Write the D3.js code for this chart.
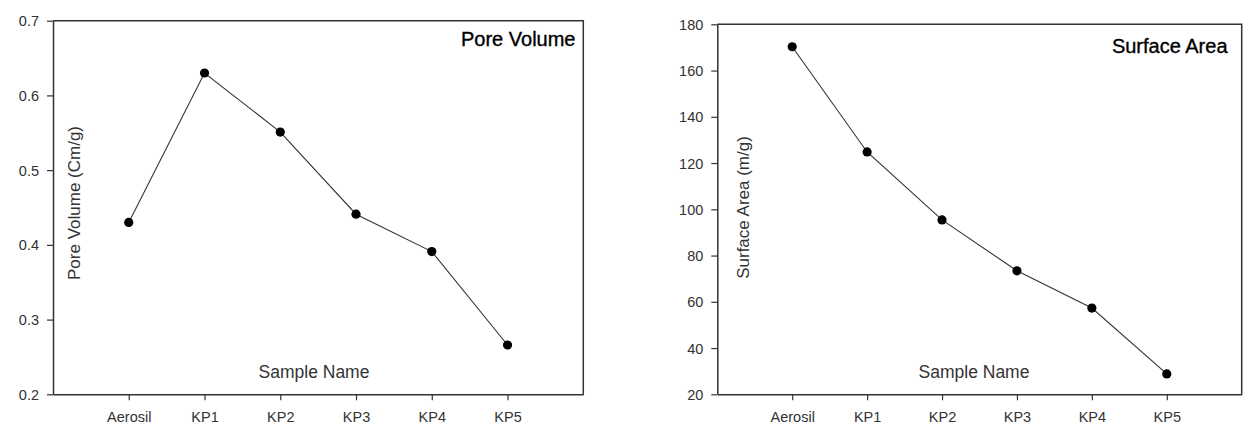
<!DOCTYPE html>
<html>
<head>
<meta charset="utf-8">
<script src="https://cdn.jsdelivr.net/npm/d3@7"></script>
<style>
  body { margin: 0; background: #fff; }
  svg { display: block; font-family: "Liberation Sans", Arial, sans-serif; }
</style>
</head>
<body>
<script>
// data
const samples = ["Aerosil", "KP1", "KP2", "KP3", "KP4", "KP5"];
const poreVolume = [0.43, 0.63, 0.551, 0.441, 0.391, 0.266];
const surfaceArea = [170.3, 124.8, 95.4, 73.4, 57.3, 28.8];
const poreTicks = [0.2, 0.3, 0.4, 0.5, 0.6, 0.7];
const areaTicks = [20, 40, 60, 80, 100, 120, 140, 160, 180];

const width = 1256, height = 435;

const svg = d3.select("body").append("svg")
  .attr("width", width)
  .attr("height", height);

function drawPanel(p) {
  const x = d3.scaleLinear().domain([0, samples.length + 1]).range([p.left, p.right]);
  const y = d3.scaleLinear().domain(p.domain).range([p.bottom, p.top]);

  const g = svg.append("g");

  // frame (top + right)
  g.append("path")
    .attr("d", `M${p.left},${p.top}H${p.right}V${p.bottom}`)
    .attr("fill", "none")
    .attr("stroke", "#333")
    .attr("stroke-width", 1.5);

  const yAxis = g.append("g")
    .attr("transform", `translate(${p.left},0)`)
    .call(d3.axisLeft(y).tickValues(p.ticks).tickFormat(p.fmt).tickSize(6).tickPadding(8).tickSizeOuter(0));

  const xAxis = g.append("g")
    .attr("transform", `translate(0,${p.bottom})`)
    .call(d3.axisBottom(x).tickValues(d3.range(1, samples.length + 1))
      .tickFormat(i => samples[i - 1]).tickSize(6).tickPadding(11).tickSizeOuter(0));

  [yAxis, xAxis].forEach(a => {
    a.select(".domain").attr("stroke", "#333").attr("stroke-width", 1.5);
    a.selectAll(".tick line").attr("stroke", "#333").attr("stroke-width", 1.2);
    a.selectAll(".tick text").attr("fill", "#333").style("font-size", "14.5px");
  });
  yAxis.selectAll(".tick text").attr("dy", "0.35em");

  const pts = p.values.map((v, i) => [x(i + 1), y(v)]);

  g.append("path")
    .attr("d", d3.line()(pts))
    .attr("fill", "none")
    .attr("stroke", "#333")
    .attr("stroke-width", 1.1);

  g.selectAll("circle.pt")
    .data(pts)
    .join("circle")
    .attr("class", "pt")
    .attr("cx", d => d[0])
    .attr("cy", d => d[1])
    .attr("r", 4.6)
    .attr("fill", "#000");

  g.append("text")
    .attr("x", p.titleX)
    .attr("y", p.titleY)
    .attr("text-anchor", "end")
    .attr("fill", "#000")
    .attr("stroke", "#000")
    .attr("stroke-width", 0.35)
    .style("font-size", "20px")
    .text(p.title);

  g.append("text")
    .attr("x", p.xLabelX)
    .attr("y", 378)
    .attr("text-anchor", "middle")
    .attr("fill", "#333")
    .style("font-size", "17.5px")
    .text("Sample Name");

  g.append("text")
    .attr("transform", `translate(${p.yLabelX},${p.yLabelY}) rotate(-90)`)
    .attr("text-anchor", "middle")
    .attr("fill", "#333")
    .style("font-size", "17px")
    .text(p.yLabel);
}

drawPanel({
  left: 53, right: 583.3, top: 20.7, bottom: 394.3,
  domain: [0.2, 0.7], ticks: poreTicks, fmt: d3.format(".1f"),
  values: poreVolume,
  title: "Pore Volume", titleX: 575.5, titleY: 46,
  xLabelX: 314,
  yLabel: "Pore Volume (Cm/g)", yLabelX: 80, yLabelY: 203
});

drawPanel({
  left: 717.3, right: 1241.7, top: 24.3, bottom: 394.3,
  domain: [20, 180], ticks: areaTicks, fmt: d3.format("d"),
  values: surfaceArea,
  title: "Surface Area", titleX: 1227.5, titleY: 53,
  xLabelX: 974,
  yLabel: "Surface Area (m/g)", yLabelX: 749, yLabelY: 207.5
});
</script>
</body>
</html>
